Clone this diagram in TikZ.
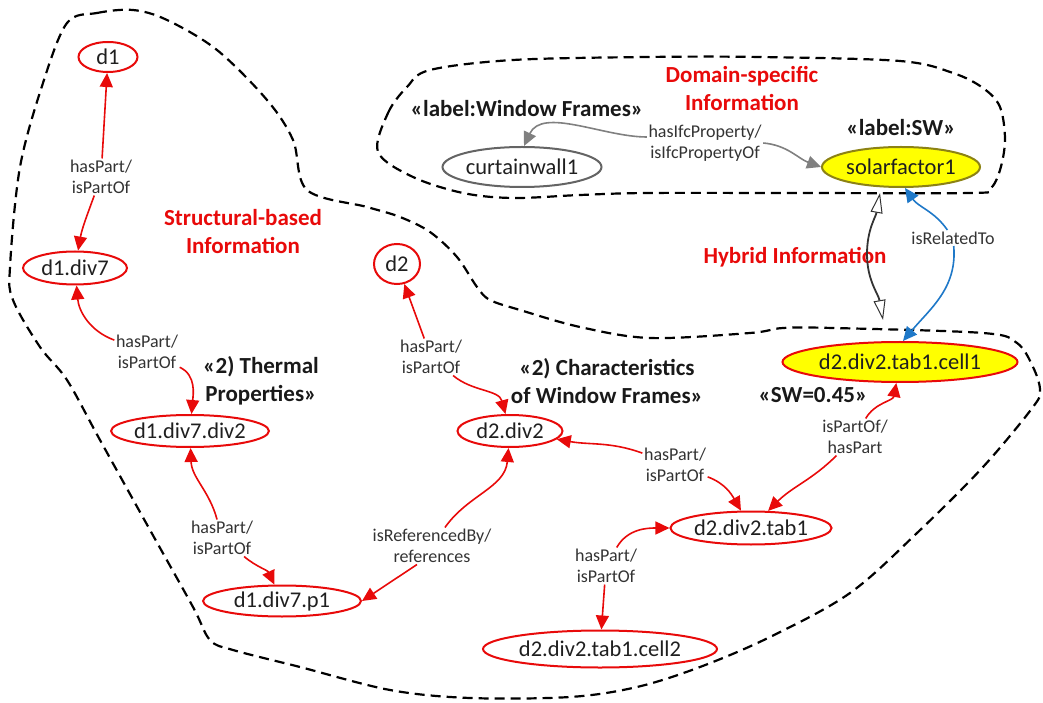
\documentclass[tikz,border=0pt]{standalone}
\usepackage{fontspec}
\setmainfont{Carlito}
\usetikzlibrary{arrows.meta,shapes.geometric}
\definecolor{rd}{RGB}{232,10,10}
\definecolor{gry}{RGB}{128,128,128}
\definecolor{cwb}{RGB}{100,100,100}
\definecolor{blu}{RGB}{30,120,200}
\definecolor{ylw}{RGB}{255,255,0}
\definecolor{olv}{RGB}{140,130,20}
\begin{document}
\begin{tikzpicture}[x=1pt,y=1pt,
  ent/.style={ellipse, draw=rd, line width=2pt, inner sep=0pt, font=\fontsize{22.5}{27}\selectfont, text=black!88},
  elab/.style={align=center, inner sep=1.5pt, font=\fontsize{18}{21}\selectfont, text=black!80},
  ttl/.style={align=center, inner sep=0pt, font=\bfseries\fontsize{23}{28}\selectfont, text=black!90},
  rttl/.style={ttl, text=rd},
  rarr/.style={draw=rd, line width=1.6pt, -{Triangle[length=14pt,width=13pt]}},
  garr/.style={draw=gry, line width=1.6pt, -{Triangle[length=14pt,width=13pt]}},
  barr/.style={draw=blu, line width=1.6pt, -{Triangle[length=14pt,width=13pt]}},
  harr/.style={draw=black!80, line width=1.8pt, {Triangle[open,length=20pt,width=12pt,line width=1pt]}-{Triangle[open,length=20pt,width=12pt,line width=1pt]}},
  region/.style={draw=black, line width=2.2pt, dash pattern=on 10pt off 6pt},
]
\useasboundingbox (0,0) rectangle (1043,702);

% regions
\draw[region] plot[smooth cycle, tension=0.55] coordinates {(67,679) (97,689) (133,692) (167,682) (217,652) (267,602) (293,562) (307,512) (367,495) (400,485) (430,470) (457,445) (477,415) (490,402) (520,392) (580,375) (650,364) (750,369) (783,374) (833,374) (983,369) (1017,359) (1033,335) (1040,312) (1033,295) (983,235) (917,169) (850,109) (770,65) (700,35) (637,15) (570,5) (470,4) (390,12) (300,35) (233,52) (210,62) (193,95) (150,172) (100,262) (67,322) (40,355) (13,402) (10,435) (20,535) (43,619)};
\draw[region] plot[smooth cycle, tension=0.55] coordinates {(378,550) (388,589) (407,615) (430,632) (513,642) (647,645) (760,645) (900,641) (953,629) (983,614) (1000,595) (1005,562) (1000,532) (990,513) (970,509) (800,509) (647,509) (580,507) (513,504) (463,509) (413,525)};

% entity nodes
\node[ent, minimum width=59pt, minimum height=30pt] (d1) at (108,645) {d1};
\node[ent, minimum width=104pt, minimum height=33pt] (d1div7) at (75,434) {d1.div7};
\node[ent, minimum width=157pt, minimum height=32pt] (d1div7div2) at (190,271) {d1.div7.div2};
\node[ent, minimum width=158pt, minimum height=31pt] (p1) at (282,101) {d1.div7.p1};
\node[ent, minimum width=46pt, minimum height=40pt] (d2) at (397,438) {d2};
\node[ent, minimum width=105pt, minimum height=32pt] (d2div2) at (510,271) {d2.div2};
\node[ent, minimum width=158pt, minimum height=33pt] (tab1) at (751,174) {d2.div2.tab1};
\node[ent, minimum width=234pt, minimum height=37pt] (cell2) at (600,53) {d2.div2.tab1.cell2};
\node[ent, fill=ylw, minimum width=235pt, minimum height=40pt] (cell1) at (900,340) {d2.div2.tab1.cell1};
\node[ent, draw=cwb, minimum width=159pt, minimum height=40pt] (cw) at (522,535) {curtainwall1};
\node[ent, draw=olv, fill=ylw, minimum width=158pt, minimum height=40pt] (sf1) at (901,535) {solarfactor1};

% titles
\node[ttl] (t1) at (527,593) {«label:Window Frames»};
\node[rttl] (t2) at (742,613) {Domain-specific\\Information};
\node[ttl] (t3) at (901,574) {«label:SW»};
\node[rttl] (t4) at (795,445) {Hybrid Information};
\node[rttl] (t5) at (243,470) {Structural-based\\Information};
\node[ttl] (t6) at (261,321) {«2) Thermal\\Properties»};
\node[ttl] (t7) at (607,321) {«2) Characteristics\\of Window Frames»};
\node[ttl] (t8) at (813,307) {«SW=0.45»};

% edge labels
\node[elab] (L1) at (101,525) {hasPart/\\isPartOf};
\node[elab] (L2) at (147,350) {hasPart/\\isPartOf};
\node[elab] (L3) at (222,164) {hasPart/\\isPartOf};
\node[elab] (L4) at (432,156) {isReferencedBy/\\references};
\node[elab] (L5) at (431,345) {hasPart/\\isPartOf};
\node[elab] (L6) at (675,237) {hasPart/\\isPartOf};
\node[elab] (L7) at (855,265) {isPartOf/\\hasPart};
\node[elab] (L8) at (606,136) {hasPart/\\isPartOf};
\node[elab] (L9) at (705,559) {hasIfcProperty/\\isIfcPropertyOf};
\node[elab] (L10) at (953,464) {isRelatedTo};

% red connectors
\draw[rarr] (L1) -- (d1);
\draw[rarr] (L1) to[out=-110,in=80] (d1div7);
\draw[rarr] (L2) to[out=160,in=-85] (d1div7);
\draw[rarr] (L2) to[out=-25,in=85] (d1div7div2);
\draw[rarr] (L3) to[out=105,in=-88] (d1div7div2);
\draw[rarr] (L3) to[out=-40,in=115] (p1);
\draw[rarr] (L4) to[out=55,in=-95] (d2div2);
\draw[rarr] ([xshift=-15pt]L4.south) -- (p1.east);
\draw[rarr] (L5) -- (d2);
\draw[rarr] (L5) to[out=-40,in=105] (d2div2);
\draw[rarr] (L6) to[out=160,in=-10] (d2div2);
\draw[rarr] (L6) to[out=-20,in=120] (tab1);
\draw[rarr] (L7) to[out=60,in=-100] (cell1);
\draw[rarr] (L7) to[out=-135,in=45] (tab1);
\draw[rarr] (L8) to[out=60,in=180] (tab1);
\draw[rarr] (L8) -- (cell2);

% gray connectors
\draw[garr] ([yshift=6pt]L9.west) to[out=180,in=65,looseness=0.9] ([xshift=2pt]cw.north);
\draw[garr] (L9.east) to[out=-5,in=160] (sf1.west);

% blue connectors
\draw[barr] (L10) to[out=125,in=-55] ([xshift=4pt]sf1.south);
\draw[barr] (L10) to[out=-85,in=50] ([xshift=3pt]cell1.north);

% hollow double arrow between regions
\coordinate (hA) at (880,509);
\coordinate (hB) at (883,382);
\draw[harr] (hA) to[out=-100,in=90] (867,448) to[out=-90,in=100] (hB);
\end{tikzpicture}
\end{document}
